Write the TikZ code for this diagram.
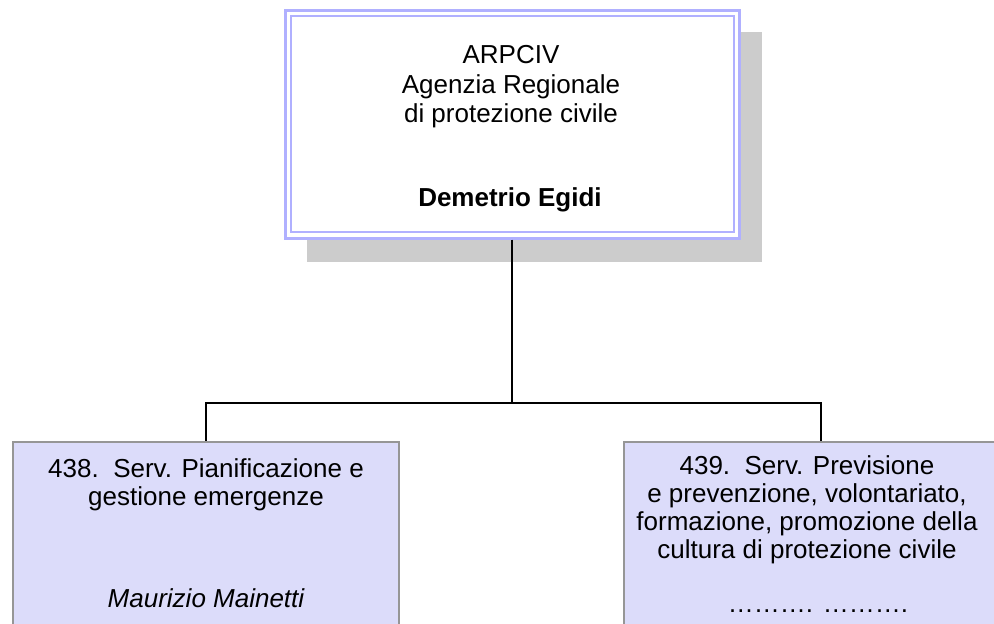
\documentclass[tikz,border=0pt]{standalone}
\usepackage{fontspec}
\setmainfont{Liberation Sans}
\definecolor{topline}{HTML}{B0B0FF}
\definecolor{subfill}{HTML}{DCDCFA}
\definecolor{subline}{HTML}{969696}
\definecolor{shadowgray}{HTML}{CCCCCC}
\begin{document}
\begin{tikzpicture}[x=1pt,y=-1pt,
  txt/.style={anchor=base,inner sep=0pt,font=\fontsize{26}{29}\selectfont},
  btxt/.style={anchor=base,inner sep=0pt,font=\fontsize{26}{28}\selectfont},
  subbox/.style={draw=subline,fill=subfill,line width=1.2pt,inner sep=0pt,minimum height=198pt},
  conn/.style={draw=black,line width=1.2pt}]
\useasboundingbox (0,0) rectangle (994,624);
\clip (0,0) rectangle (994,624);
% shadow
\fill[shadowgray] (307,32) rectangle (762,262);
% top box
\node[draw=topline,fill=white,line width=3pt,inner sep=0pt,minimum width=454pt,minimum height=228pt] (top) at (512,124) {};
\draw[topline,line width=1.6pt] (291,16) rectangle (734,232);
% sub boxes
\node[subbox,minimum width=386pt] (left) at (206,541) {};
\node[subbox,minimum width=394pt] (right) at (821,541) {};
% connectors
\coordinate (j) at (512,403);
\draw[conn] (top.south) -- (j);
\draw[conn] (j) -| (left.north);
\draw[conn] (j) -| (right.north);
% top texts
\node[txt] (t1) at (511,63.5) {ARPCIV};
\node[txt] (t2) at (511,93.5) {Agenzia Regionale};
\node[txt] (t3) at (511,122.5) {di protezione civile};
\node[txt,font=\fontsize{26}{29}\selectfont\bfseries] (t4) at (510,206.5) {Demetrio Egidi};
% left texts
\node[btxt] (l1) at (206,477) {438.\ \ Serv. Pianificazione e};
\node[btxt] (l2) at (206,505) {gestione emergenze};
\node[btxt,font=\fontsize{26}{28}\selectfont\itshape] (l3) at (206,607) {Maurizio Mainetti};
% right texts
\node[btxt] (r1) at (807,474) {439.\ \ Serv. Previsione};
\node[btxt] (r2) at (807,502) {e prevenzione, volontariato,};
\node[btxt] (r3) at (807,530) {formazione, promozione della};
\node[btxt] (r4) at (807,558) {cultura di protezione civile};
\node[btxt] (r5) at (818,612) {………. ……….};
\end{tikzpicture}
\end{document}
